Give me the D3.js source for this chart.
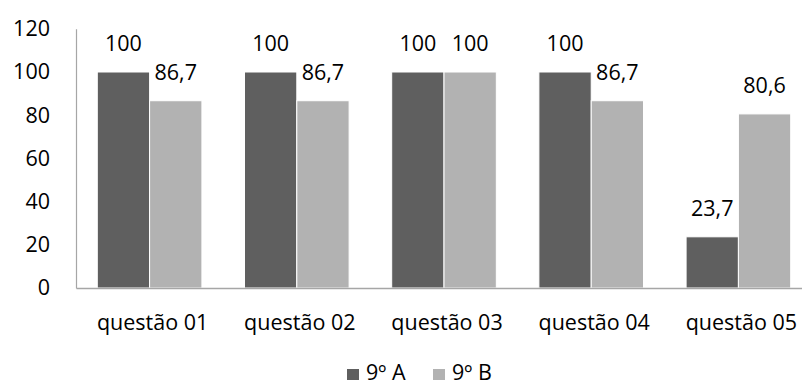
<!DOCTYPE html>
<html>
<head>
<meta charset="utf-8">
<script src="https://cdn.jsdelivr.net/npm/d3@7/dist/d3.min.js"></script>
<style>
  html, body { margin: 0; padding: 0; background: #fff; }
  svg { display: block; font-family: "Open Sans", sans-serif; }
</style>
</head>
<body>
<svg id="chart" width="802" height="386"></svg>
<script>
// Percentual de acertos por questão, turmas 9º A e 9º B
const categories = ["questão 01", "questão 02", "questão 03", "questão 04", "questão 05"];
const seriesNames = ["9º A", "9º B"];
const valuesA = [100, 100, 100, 100, 23.7];
const valuesB = [86.7, 86.7, 100, 86.7, 80.6];
const yTicks = [0, 20, 40, 60, 80, 100, 120];
const colors = ["#5f5f5f", "#b2b2b2"];

(function () {
  const svg = d3.select("#chart");
  const plotLeft = 76, plotRight = 812, plotTop = 28.8, plotBottom = 288;
  const fontSize = 21.5;

  const x0 = d3.scaleBand().domain(categories).range([plotLeft, plotRight]).padding(0);
  const x1 = d3.scaleBand().domain(seriesNames).range([0, x0.bandwidth()])
    .paddingInner(0).paddingOuter(0.407);
  const y = d3.scaleLinear().domain([0, 120]).range([plotBottom, plotTop]);
  const color = d3.scaleOrdinal().domain(seriesNames).range(colors);

  const fmt = v => String(v).replace(".", ",");

  const rows = categories.map((c, i) => ({
    cat: c,
    vals: [
      { s: seriesNames[0], v: valuesA[i] },
      { s: seriesNames[1], v: valuesB[i] }
    ]
  }));

  // Barras agrupadas
  const groups = svg.append("g").selectAll("g").data(rows).join("g")
    .attr("transform", d => `translate(${x0(d.cat)},0)`);

  groups.selectAll("rect").data(d => d.vals).join("rect")
    .attr("x", d => x1(d.s))
    .attr("y", d => y(d.v))
    .attr("width", x1.bandwidth())
    .attr("height", d => y(0) - y(d.v))
    .attr("fill", d => color(d.s))
    .attr("stroke", "#ffffff")
    .attr("stroke-width", 1);

  // Rótulos de valor
  groups.selectAll("text").data(d => d.vals).join("text")
    .attr("x", d => x1(d.s) + x1.bandwidth() / 2)
    .attr("y", d => y(d.v) - 21)
    .attr("text-anchor", "middle")
    .attr("font-size", fontSize)
    .attr("fill", "#000")
    .text(d => fmt(d.v));

  // Eixo Y
  const yAxis = svg.append("g")
    .attr("transform", `translate(${plotLeft},0)`)
    .call(d3.axisLeft(y).tickValues(yTicks).tickSize(0).tickPadding(26));
  yAxis.select(".domain").attr("stroke", "#a6a6a6").attr("stroke-width", 1.2);
  yAxis.selectAll("text").attr("font-size", fontSize).attr("fill", "#000")
    .attr("font-family", "'Open Sans', sans-serif");

  // Eixo X
  const xAxis = svg.append("g")
    .attr("transform", `translate(0,${plotBottom})`)
    .call(d3.axisBottom(x0).tickSize(0).tickPadding(27));
  xAxis.select(".domain").attr("stroke", "#a6a6a6").attr("stroke-width", 1.5);
  xAxis.selectAll("text").attr("font-size", fontSize).attr("fill", "#000")
    .attr("font-family", "'Open Sans', sans-serif")
    .attr("dx", 3);

  // Legenda
  const legendX = [347, 433];
  const legend = svg.append("g").selectAll("g").data(seriesNames).join("g")
    .attr("transform", (d, i) => `translate(${legendX[i]},369)`);
  legend.append("rect")
    .attr("width", 12).attr("height", 11)
    .attr("fill", d => color(d));
  legend.append("text")
    .attr("x", 19).attr("y", 11)
    .attr("font-size", fontSize)
    .attr("fill", "#000")
    .text(d => d);
})();
</script>
</body>
</html>
